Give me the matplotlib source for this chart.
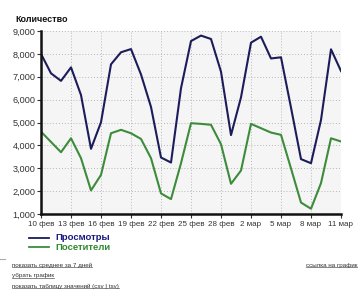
import matplotlib
matplotlib.use("Agg")
import matplotlib.pyplot as plt
import numpy as np

plt.rcParams['font.family'] = ['Liberation Sans', 'DejaVu Sans']

# Data: daily values, 10 Feb .. 11 Mar (2012)
views = [8000, 7150, 6820, 7410, 6200, 3850, 5010, 7545, 8070, 8210,
         7100, 5680, 3470, 3250, 6500, 8560, 8800, 8650, 7220, 4450,
         6100, 8490, 8750, 7800, 7850, 5650, 3400, 3220, 5110, 8200, 7250]
visitors = [4600, 4150, 3700, 4310, 3440, 2030, 2710, 4530, 4680, 4530,
            4280, 3440, 1900, 1650, 3220, 4970, 4940, 4900, 4050, 2320,
            2900, 4940, 4750, 4560, 4460, 2990, 1500, 1230, 2350, 4310, 4170]
x_ticklabels = ['10 фев', '13 фев', '16 фев', '19 фев', '22 фев', '25 фев',
                '28 фев', '2 мар', '5 мар', '8 мар', '11 мар']
y_ticks = [1000, 2000, 3000, 4000, 5000, 6000, 7000, 8000, 9000]
series_names = ['Просмотры', 'Посетители']
colors = ['#1c1c5a', '#3c8c3c']
text_colors = ['#1a1a80', '#2e8a2e']

fig = plt.figure(figsize=(3.6, 3.01), dpi=100)
ax = fig.add_axes([41/360, 1 - 214/301, 300/360, 183/301])
ax.set_facecolor('#f5f5f5')

days = np.arange(len(views))
ax.plot(days, views, color=colors[0], lw=1.5)
ax.plot(days, visitors, color=colors[1], lw=1.5)

ax.set_xlim(0, 30)
ax.set_ylim(1000, 9000)
ax.set_xticks(np.arange(0, 31, 3))
ax.set_xticklabels(x_ticklabels)
ax.set_yticks(y_ticks)
ax.set_yticklabels([f'{v:,}' for v in y_ticks])
ax.tick_params(labelsize=6.6, colors='#333333', length=3, width=0.8, pad=1)
ax.tick_params(axis='x', labelsize=5.8, pad=2)
ax.grid(True, color='#b8b8b8', ls=(0, (1, 2)), lw=0.7)
for s in ['top', 'right']:
    ax.spines[s].set_visible(False)
for s in ['left', 'bottom']:
    ax.spines[s].set_linewidth(1.8)
    ax.spines[s].set_color('#111111')

fig.text(15/360, 1 - 19/301, 'Количество', fontsize=6.5, fontweight='bold',
         color='#111111', va='center')

# legend
for i, (name, c, tc) in enumerate(zip(series_names, colors, text_colors)):
    yy = 1 - (238 + 9*i)/301
    fig.add_artist(plt.Line2D([29/360, 49/360], [yy, yy], color=c, lw=1.3,
                              transform=fig.transFigure))
    fig.text(55/360, yy, name, fontsize=6.8, fontweight='bold', color=tc, va='center')

fig.add_artist(plt.Line2D([0, 5/360], [1 - 259/301]*2, color='#aaaaaa', lw=0.8,
                          transform=fig.transFigure))
links = ['показать среднее за 7 дней', 'убрать график', 'показать таблицу значений (csv | tsv)']
link_texts = []
for i, t in enumerate(links):
    link_texts.append(fig.text(12/360, 1 - (265 + 10.5*i)/301, t, fontsize=4.5,
                               color='#333333', va='center'))
link_texts.append(fig.text(357/360, 1 - 265/301, 'ссылка на график', fontsize=4.5,
                           color='#333333', va='center', ha='right'))

fig.canvas.draw()
r = fig.canvas.get_renderer()
for t in link_texts:
    bb = t.get_window_extent(r).transformed(fig.transFigure.inverted())
    fig.add_artist(plt.Line2D([bb.x0, bb.x1], [bb.y0 + 0.3/301] * 2, color='#555555',
                              lw=0.5, transform=fig.transFigure))

fig.savefig('out.png', dpi=100)
